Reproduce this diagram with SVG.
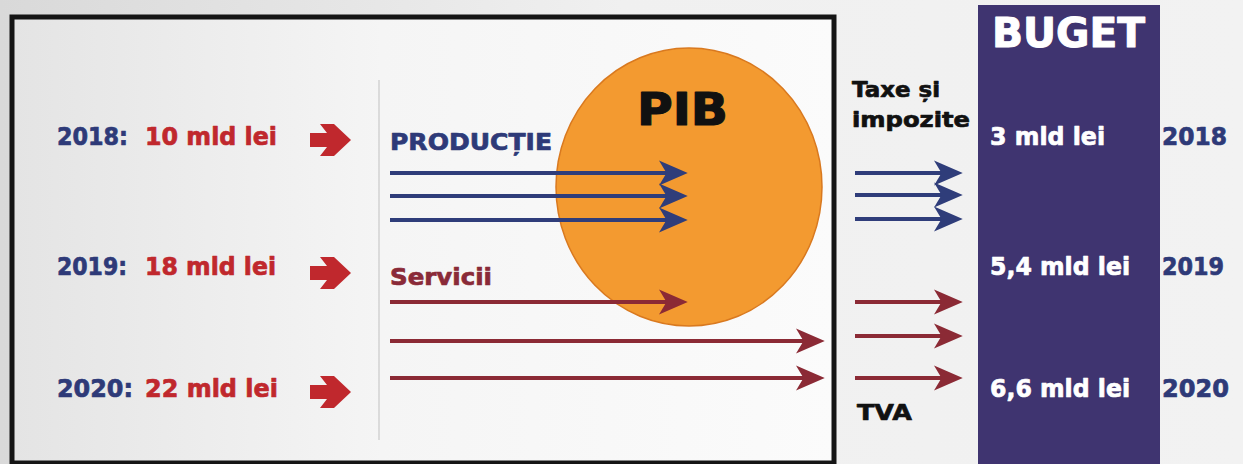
<svg xmlns="http://www.w3.org/2000/svg" width="1243" height="464" viewBox="0 0 1243 464">
<defs>
<linearGradient id="bg" x1="0" y1="0" x2="1" y2="0">
<stop offset="0" stop-color="#d9d9d9"/>
<stop offset="0.5" stop-color="#f0f0f0"/>
<stop offset="1" stop-color="#f2f2f2"/>
</linearGradient>
<linearGradient id="inner" x1="0" y1="0" x2="1" y2="0">
<stop offset="0" stop-color="#e4e4e4"/>
<stop offset="0.45" stop-color="#f5f5f5"/>
<stop offset="1" stop-color="#fbfbfb"/>
</linearGradient>
<marker id="hb" markerUnits="userSpaceOnUse" markerWidth="30" markerHeight="30" viewBox="0 -12 24 24" refX="12" refY="0" orient="auto">
<path d="M0,-10 L23,0 L0,10 L6,0 Z" fill="#2f3d7a"/>
</marker>
<marker id="hr" markerUnits="userSpaceOnUse" markerWidth="30" markerHeight="30" viewBox="0 -12 24 24" refX="12" refY="0" orient="auto">
<path d="M0,-10 L23,0 L0,10 L6,0 Z" fill="#8b2a35"/>
</marker>
<path id="blk" d="M0,-7 L17,-7 L10,-16 L24,-16 L41,0 L24,16 L10,16 L17,7 L0,7 Z"/>
</defs>
<style>
text{font-family:"DejaVu Sans","Liberation Sans",sans-serif;font-weight:bold;stroke-width:0.7;stroke-linejoin:round}
.yb{fill:#2e3a78;stroke:#2e3a78;font-size:25px}
.vr{fill:#c0282d;stroke:#c0282d;font-size:25px}
.w{fill:#ffffff;stroke:#ffffff;font-size:24px}
.k{fill:#111111;stroke:#111111}
.ab{stroke:#2f3d7a;stroke-width:4;marker-end:url(#hb)}
.ar{stroke:#8b2a35;stroke-width:4;marker-end:url(#hr)}
</style>
<rect width="1243" height="464" fill="url(#bg)"/>
<g id="frame">
<rect x="12" y="17" width="822" height="446" fill="url(#inner)" stroke="#151515" stroke-width="5"/>
<line x1="379" y1="80" x2="379" y2="440" stroke="#d2d2d2" stroke-width="1.5"/>
</g>
<g id="pib">
<ellipse cx="689" cy="187" rx="133" ry="139" fill="#f39a30" stroke="#d9791f" stroke-width="1.5"/>
<text x="637" y="125" class="k" font-size="44" style="stroke-width:1.2" textLength="91" lengthAdjust="spacingAndGlyphs">PIB</text>
</g>
<g id="buget">
<rect x="978" y="5" width="182" height="470" fill="#3f3470"/>
<text x="992" y="47" fill="#ffffff" stroke="#ffffff" font-size="40" style="stroke-width:1" textLength="153" lengthAdjust="spacingAndGlyphs">BUGET</text>
<text x="990" y="145" class="w" textLength="115" lengthAdjust="spacingAndGlyphs">3 mld lei</text>
<text x="990" y="275" class="w" textLength="140" lengthAdjust="spacingAndGlyphs">5,4 mld lei</text>
<text x="990" y="397" class="w" textLength="140" lengthAdjust="spacingAndGlyphs">6,6 mld lei</text>
</g>
<g id="row2018">
<text x="57" y="145" class="yb" textLength="71" lengthAdjust="spacingAndGlyphs">2018:</text>
<text x="145" y="145" class="vr" textLength="132" lengthAdjust="spacingAndGlyphs">10 mld lei</text>
<use href="#blk" x="310" y="140" fill="#c0282d"/>
</g>
<g id="row2019">
<text x="57" y="275" class="yb" textLength="70" lengthAdjust="spacingAndGlyphs">2019:</text>
<text x="145" y="275" class="vr" textLength="131" lengthAdjust="spacingAndGlyphs">18 mld lei</text>
<use href="#blk" x="310" y="273" fill="#c0282d"/>
</g>
<g id="row2020">
<text x="57" y="397" class="yb" textLength="76" lengthAdjust="spacingAndGlyphs">2020:</text>
<text x="145" y="397" class="vr" textLength="133" lengthAdjust="spacingAndGlyphs">22 mld lei</text>
<use href="#blk" x="310" y="392" fill="#c0282d"/>
</g>
<g id="productie">
<text x="390" y="150" fill="#2e3a78" stroke="#2e3a78" font-size="23" textLength="162" lengthAdjust="spacingAndGlyphs">PRODUCȚIE</text>
</g>
<g id="servicii">
<text x="390" y="285" fill="#8a2a38" stroke="#8a2a38" font-size="23" textLength="102" lengthAdjust="spacingAndGlyphs">Servicii</text>
</g>
<g id="taxe">
<text x="852" y="97" class="k" font-size="21" textLength="88" lengthAdjust="spacingAndGlyphs">Taxe și</text>
<text x="852" y="127" class="k" font-size="21" textLength="118" lengthAdjust="spacingAndGlyphs">impozite</text>
</g>
<g id="tva">
<text x="857" y="420" class="k" font-size="21" textLength="55" lengthAdjust="spacingAndGlyphs">TVA</text>
</g>
<g id="years">
<text x="1162" y="145" class="yb" textLength="65" lengthAdjust="spacingAndGlyphs">2018</text>
<text x="1162" y="275" class="yb" textLength="62" lengthAdjust="spacingAndGlyphs">2019</text>
<text x="1162" y="397" class="yb" textLength="67" lengthAdjust="spacingAndGlyphs">2020</text>
</g>
<g id="connectors">
<line class="ab" x1="390" y1="173" x2="674" y2="173"/>
<line class="ab" x1="390" y1="196" x2="674" y2="196"/>
<line class="ab" x1="390" y1="220" x2="674" y2="220"/>
<line class="ar" x1="390" y1="302" x2="674" y2="302"/>
<line class="ar" x1="390" y1="341" x2="811" y2="341"/>
<line class="ar" x1="390" y1="378" x2="811" y2="378"/>
<line class="ab" x1="855" y1="173" x2="949" y2="173"/>
<line class="ab" x1="855" y1="195" x2="949" y2="195"/>
<line class="ab" x1="855" y1="219" x2="949" y2="219"/>
<line class="ar" x1="855" y1="302" x2="949" y2="302"/>
<line class="ar" x1="855" y1="336" x2="949" y2="336"/>
<line class="ar" x1="855" y1="378" x2="949" y2="378"/>
</g>
</svg>
